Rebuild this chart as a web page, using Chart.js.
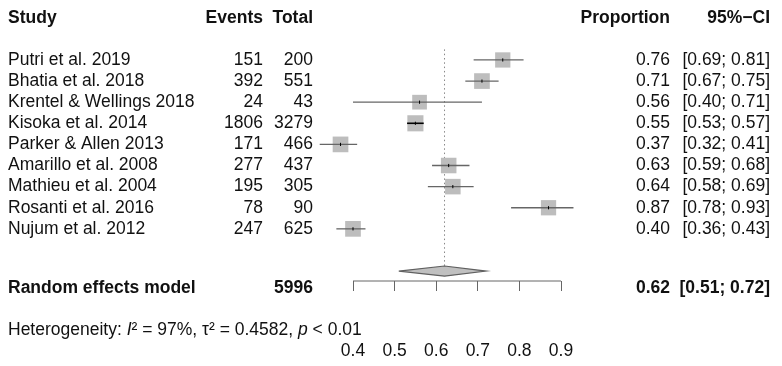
<!DOCTYPE html>
<html>
<head>
<meta charset="utf-8">
<script src="https://cdn.jsdelivr.net/npm/chart.js@4.4.0/dist/chart.umd.min.js"></script>
<style>
  body { margin: 0; background: #fff; }
  #wrap { width: 782px; height: 366px; }
</style>
</head>
<body>
<div id="wrap"><canvas id="forest" width="782" height="366"></canvas></div>
<script>
// study level data
const studies = ["Putri et al. 2019", "Bhatia et al. 2018", "Krentel & Wellings 2018", "Kisoka et al. 2014",
  "Parker & Allen 2013", "Amarillo et al. 2008", "Mathieu et al. 2004", "Rosanti et al. 2016", "Nujum et al. 2012"];
const events = [151, 392, 24, 1806, 171, 277, 195, 78, 247];
const totals = [200, 551, 43, 3279, 466, 437, 305, 90, 625];
const proportion = [0.76, 0.71, 0.56, 0.55, 0.37, 0.63, 0.64, 0.87, 0.40];
const ciLower = [0.69, 0.67, 0.40, 0.53, 0.32, 0.59, 0.58, 0.78, 0.36];
const ciUpper = [0.81, 0.75, 0.71, 0.57, 0.41, 0.68, 0.69, 0.93, 0.43];
const weights = [10.9, 11.2, 10.5, 11.5, 11.2, 11.1, 11.1, 10.9, 11.2];

// pooled (random effects)
const pooled = 0.62;
const pooledLower = 0.51;
const pooledUpper = 0.72;
const pooledTotal = 5996;
const xTicks = [0.4, 0.5, 0.6, 0.7, 0.8, 0.9];

const FONT = "'Liberation Sans', Arial, sans-serif";
const FS = 17.5;
const TICK_LEFT = 353, TICK_RIGHT = 561; // pixel spots of first / last tick
const X_MIN = 0.3, X_MAX = 1.0;          // scale range, wider than the ticks so outer points still draw
const SQ_SIDE = 15.5; // square side for an average weight
const POOL_ROW = 10;
const AXIS_ROW = 10.47;
const DIAMOND_H = 0.24;

const pxPerUnit = (TICK_RIGHT - TICK_LEFT) / (xTicks[xTicks.length - 1] - xTicks[0]);
const padLeft = TICK_LEFT - (xTicks[0] - X_MIN) * pxPerUnit;
const padRight = 782 - (TICK_RIGHT + (X_MAX - xTicks[xTicks.length - 1]) * pxPerUnit);
const meanW = weights.reduce((a, b) => a + b, 0) / weights.length;
const sides = weights.map(w => SQ_SIDE * w / meanW);
// CI fully covered by the square -> draw it black
const inside = studies.map((s, i) => (ciUpper[i] - ciLower[i]) * pxPerUnit <= sides[i] + 2);

let datasets = studies.map((s, i) => ({
  data: [{x: ciLower[i], y: i}, {x: ciUpper[i], y: i}],
  showLine: true,
  borderColor: inside[i] ? "#000" : "#666",
  borderWidth: inside[i] ? 1.6 : 1.3,
  pointRadius: 0,
  order: 0,
  clip: false
}));

datasets.push({
  data: proportion.map((p, i) => ({x: p, y: i})),
  pointStyle: "rect",
  pointRadius: sides.map(s => s / 2 / Math.SQRT1_2),
  backgroundColor: "#bdbdbd",
  borderWidth: 0,
  order: 3,
  clip: false
});

datasets.push({
  data: proportion.map((p, i) => ({x: p, y: i})),
  pointStyle: "line",
  rotation: 90,
  pointRadius: 1.6,
  borderColor: "#000",
  borderWidth: 1,
  order: -1,
  clip: false
});

// pooled diamond
datasets.push({
  data: [
    {x: pooledLower, y: POOL_ROW},
    {x: pooled, y: POOL_ROW - DIAMOND_H},
    {x: pooledUpper, y: POOL_ROW},
    {x: pooled, y: POOL_ROW + DIAMOND_H},
    {x: pooledLower, y: POOL_ROW}
  ],
  showLine: true,
  fill: "shape",
  backgroundColor: "#c0c0c0",
  borderColor: "#606060",
  borderWidth: 1.2,
  pointRadius: 0,
  order: 4,
  clip: false
});

// dotted line at pooled estimate
datasets.push({
  data: [{x: pooled, y: -0.5}, {x: pooled, y: POOL_ROW - DIAMOND_H}],
  showLine: true,
  borderColor: "#888",
  borderWidth: 1,
  borderDash: [1.5, 2.8],
  pointRadius: 0,
  order: 6,
  clip: false
});

// axis line, only between first and last tick
datasets.push({
  data: [{x: xTicks[0], y: AXIS_ROW}, {x: xTicks[xTicks.length - 1], y: AXIS_ROW}],
  showLine: true,
  borderColor: "#666",
  borderWidth: 1,
  pointRadius: 0,
  order: 7,
  clip: false
});

const tablePlugin = {
  id: "table",
  afterDraw(chart) {
    const ctx = chart.ctx;
    const y = chart.scales.y;
    ctx.save();
    ctx.fillStyle = "#111";
    ctx.textBaseline = "middle";

    function txt(s, x, row, align, bold) {
      ctx.font = (bold ? "bold " : "") + FS + "px " + FONT;
      ctx.textAlign = align;
      ctx.fillText(s, x, y.getPixelForValue(row));
    }

    // header
    txt("Study", 8, -2.0, "left", true);
    txt("Events", 263, -2.0, "right", true);
    txt("Total", 313, -2.0, "right", true);
    txt("Proportion", 670, -2.0, "right", true);
    txt("95%\u2212CI", 770, -2.0, "right", true);

    studies.forEach((s, i) => {
      txt(s, 8, i, "left");
      txt(String(events[i]), 263, i, "right");
      txt(String(totals[i]), 313, i, "right");
      txt(proportion[i].toFixed(2), 670, i, "right");
      txt("[" + ciLower[i].toFixed(2) + "; " + ciUpper[i].toFixed(2) + "]", 770, i, "right");
    });

    const rRow = 10.8;
    txt("Random effects model", 8, rRow, "left", true);
    txt(String(pooledTotal), 313, rRow, "right", true);
    txt(pooled.toFixed(2), 670, rRow, "right", true);
    txt("[" + pooledLower.toFixed(2) + "; " + pooledUpper.toFixed(2) + "]", 770, rRow, "right", true);

    // heterogeneity line with italic parts
    const parts = [["Heterogeneity: ", ""], ["I", "italic "], ["\u00b2 = 97%, \u03c4\u00b2 = 0.4582, ", ""], ["p", "italic "], [" < 0.01", ""]];
    let hx = 8;
    const hy = y.getPixelForValue(12.8);
    ctx.textAlign = "left";
    parts.forEach(([s, st]) => {
      ctx.font = st + FS + "px " + FONT;
      ctx.fillText(s, hx, hy);
      hx += ctx.measureText(s).width;
    });
    ctx.restore();
  }
};

new Chart(document.getElementById("forest"), {
  type: "scatter",
  data: { datasets: datasets },
  plugins: [tablePlugin],
  options: {
    responsive: false,
    devicePixelRatio: 1,
    animation: false,
    events: [],
    layout: { autoPadding: false, padding: { left: padLeft, right: padRight, top: 0, bottom: 0 } },
    plugins: { legend: { display: false }, tooltip: { enabled: false } },
    scales: {
      x: {
        type: "linear",
        min: X_MIN,
        max: X_MAX,
        afterBuildTicks: s => { s.ticks = xTicks.map(v => ({ value: v })); },
        afterFit: s => { s.height = 85; },
        grid: { drawOnChartArea: false, drawTicks: true, tickLength: 10, color: "#666", lineWidth: 1 },
        border: { display: false },
        ticks: {
          padding: 50,
          maxRotation: 0,
          autoSkip: false,
          color: "#111",
          font: { family: FONT, size: FS },
          callback: v => Number(v).toFixed(1)
        }
      },
      y: {
        type: "linear",
        reverse: true,
        min: -2.84,
        max: AXIS_ROW,
        display: false
      }
    }
  }
});
</script>
</body>
</html>
